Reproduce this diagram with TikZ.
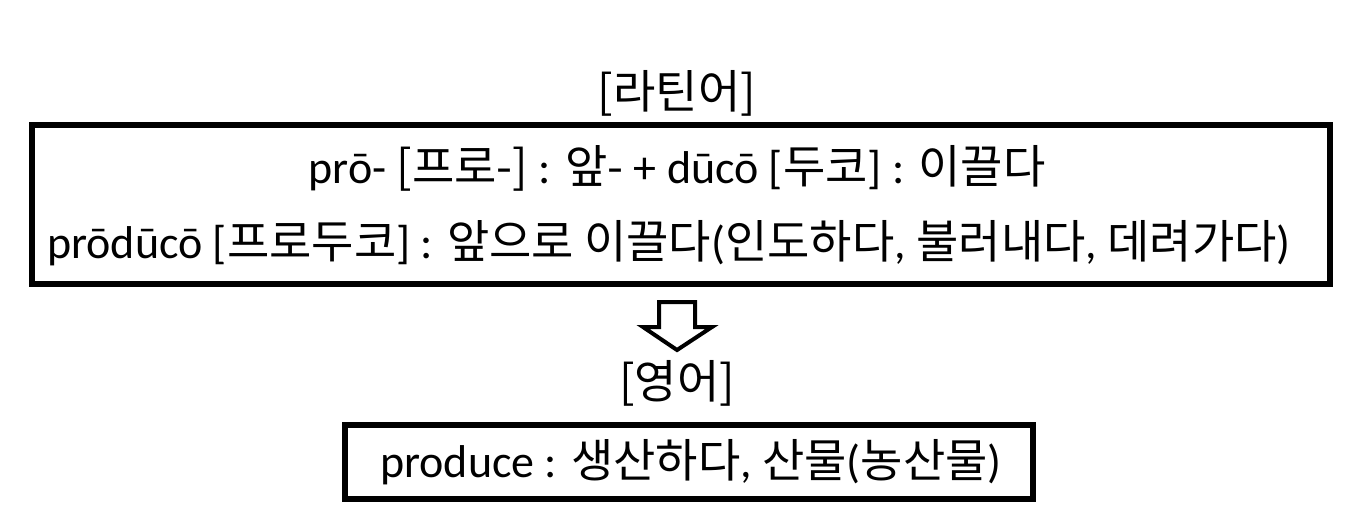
\documentclass[tikz,border=0pt]{standalone}
\usepackage{fontspec}
\setmainfont{Carlito}
\newfontfamily\kr{Noto Sans CJK KR}
\newcommand{\ko}[1]{{\kr #1}}
\usetikzlibrary{positioning}

\begin{document}
\begin{tikzpicture}[x=0.75pt, y=-0.75pt,
    frame/.style={rectangle, draw=black, line width=4.5pt, fill=white,
                  inner sep=0pt},
    txt/.style={font=\fontsize{34.5}{40}\selectfont, inner sep=0pt},
    head/.style={font=\fontsize{34.5}{40}\selectfont\kr, inner sep=0pt},
    blockarr/.style={draw=black, line width=3pt, fill=white, line join=miter}]

  \useasboundingbox (0,0) rectangle (1370,519);

  %--- Latin ---
  \node[head] (lat) at (677,93) {[라틴어]};
  \node[frame, minimum width=973.5pt, minimum height=119.25pt] (box1) at (681,204.5) {};
  \node[txt] (l1) at (677,168)
    {prō- \ko{[프로-]} : \ko{앞-} + dūcō [\ko{두코}] : \ko{이끌다}};
  \node[txt] (l2) at (669,243)
    {prōdūcō [\ko{프로두코}] : \ko{앞으로 이끌다}(\ko{인도하다}, \ko{불러내다}, \ko{데려가다})};

  %--- arrow ---
  \draw[blockarr] (659,302) -- (695,302) -- (695,327) -- (712,327)
    -- (677,350) -- (643,327) -- (659,327) -- cycle;

  %--- English ---
  \node[head] (eng) at (677,383) {[영어]};
  \node[frame, minimum width=516pt, minimum height=55pt] (box2) at (689,462) {};
  \node[txt] (l3) at (691,462) {produce : \ko{생산하다}, \ko{산물}(\ko{농산물})};
\end{tikzpicture}
\end{document}
